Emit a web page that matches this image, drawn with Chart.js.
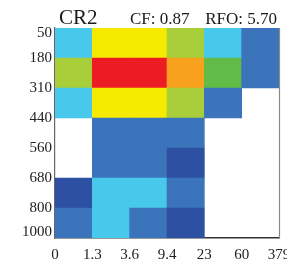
<!DOCTYPE html>
<html><head><meta charset="utf-8">
<script src="https://cdn.jsdelivr.net/npm/chart.js@4.4.1/dist/chart.umd.min.js"></script>
<style>html,body{margin:0;padding:0;background:#fff;overflow:hidden}</style>
</head><body>
<canvas id="c" width="287" height="265"></canvas>
<script>
// Optical thickness bin edges (x) and cloud-top pressure bin edges (y, hPa)
const tauLabels = ['0', '1.3', '3.6', '9.4', '23', '60', '379'];
const pressureLabels = ['50', '180', '310', '440', '560', '680', '800', '1000'];

// Histogram values (%) per pressure row, one value per tau bin
const row50_180   = [1.0, 3.4, 3.5, 2.6, 1.0, 0.5];
const row180_310  = [2.6, 5.1, 5.0, 4.2, 2.0, 0.5];
const row310_440  = [1.1, 3.3, 3.4, 2.7, 0.5, 0.0];
const row440_560  = [0.0, 0.5, 0.6, 0.5, 0.0, 0.0];
const row560_680  = [0.0, 0.5, 0.5, 0.2, 0.0, 0.0];
const row680_800  = [0.2, 1.0, 1.0, 0.5, 0.0, 0.0];
const row800_1000 = [0.5, 1.0, 0.5, 0.2, 0.0, 0.0];

const titleText = 'CR2';
const cfText = 'CF: 0.87';
const rfoText = 'RFO: 5.70';

// colour scale (styling)
const levels = [0.1, 0.35, 0.75, 1.5, 2.3, 3.0, 3.8, 4.6];
const palette = ['#2d50a2', '#3b74ba', '#48c8ea', '#62bb46', '#a8ce3a', '#f6ea00', '#f7a11e', '#ed1c24'];
function colorFor(v) {
  let c = null;
  for (let i = 0; i < levels.length; i++) if (v >= levels[i]) c = palette[i];
  return c;
}

const rows = [row50_180, row180_310, row310_440, row440_560, row560_680, row680_800, row800_1000];
const points = [], colors = [];
rows.forEach((row, r) => row.forEach((v, c) => {
  const col = colorFor(v);
  if (col) { points.push({x: c + 0.5, y: [r, r + 1]}); colors.push(col); }
}));

const serif = '"Liberation Serif", "Times New Roman", serif';

const overlay = {
  id: 'overlay',
  afterDraw(chart) {
    const {ctx, chartArea: a} = chart;
    ctx.save();
    ctx.strokeStyle = '#8a8a8a';
    ctx.lineWidth = 1.2;
    ctx.beginPath();
    ctx.moveTo(a.right + 0.5, a.top);
    ctx.lineTo(a.right + 0.5, a.bottom);
    ctx.stroke();
    ctx.fillStyle = '#1a1a1a';
    ctx.textBaseline = 'alphabetic';
    ctx.textAlign = 'left';
    ctx.font = '21px ' + serif;
    ctx.fillText(titleText, a.left + 4, a.top - 4);
    ctx.font = '17px ' + serif;
    ctx.fillText(cfText, a.left + 75, a.top - 4);
    ctx.textAlign = 'right';
    ctx.fillText(rfoText, a.right - 2, a.top - 4);
    ctx.restore();
  }
};

new Chart(document.getElementById('c'), {
  type: 'bar',
  data: {
    datasets: [{
      data: points,
      backgroundColor: colors,
      borderWidth: 0,
      barPercentage: 1,
      categoryPercentage: 1,
      grouped: false
    }]
  },
  options: {
    responsive: false,
    animation: false,
    layout: {padding: {top: 28, right: 8, left: 0, bottom: 0}},
    plugins: {legend: {display: false}, tooltip: {enabled: false}},
    scales: {
      x: {
        type: 'linear', min: 0, max: 6, offset: false,
        grid: {display: false, drawTicks: false},
        border: {display: true, color: '#333', width: 1.5},
        ticks: {
          stepSize: 1, autoSkip: false, maxRotation: 0, padding: 8,
          color: '#222', font: {family: serif, size: 15},
          callback: (v) => tauLabels[v]
        },
        afterFit(s) { s.height = 27; s.paddingLeft = 0; s.paddingRight = 0; }
      },
      y: {
        type: 'linear', min: 0, max: 7, reverse: true,
        grid: {display: false, drawTicks: false},
        border: {display: true, color: '#666', width: 1.2},
        ticks: {
          autoSkip: false, padding: 3,
          color: '#222', font: {family: serif, size: 15},
          callback: (v, i) => pressureLabels[i]
        },
        afterBuildTicks(s) {
          s.ticks = pressureLabels.map((_, i) => ({value: i === 0 ? 0.17 : (i === pressureLabels.length - 1 ? 6.8 : i)}));
        },
        afterFit(s) { s.width = 55; s.paddingTop = 0; s.paddingBottom = 0; }
      }
    }
  },
  plugins: [overlay]
});
</script>
</body></html>
